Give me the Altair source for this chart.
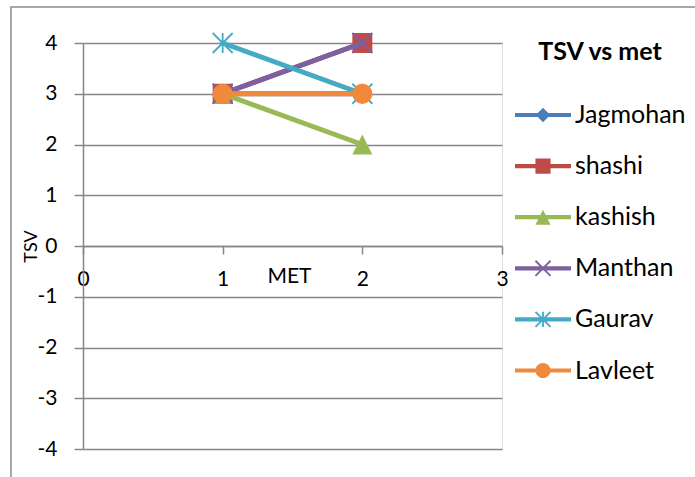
import altair as alt
import pandas as pd

# ---- data -------------------------------------------------------------
met = [1, 2]
series_names = ["Jagmohan", "shashi", "kashish", "Manthan", "Gaurav", "Lavleet"]
jagmohan = [3, 3]
shashi = [3, 4]
kashish = [3, 2]
manthan = [3, 4]
gaurav = [4, 3]
lavleet = [3, 3]
series_values = [jagmohan, shashi, kashish, manthan, gaurav, lavleet]

x_ticks = [0, 1, 2, 3]
y_ticks = [-4, -3, -2, -1, 0, 1, 2, 3, 4]

series_colors = ["#4A7EBB", "#BE4B48", "#98B954", "#7D60A0", "#46AAC5", "#F0893C"]
marker_kinds = ["diamond", "square", "triangle", "cross", "star", "circle"]

rows = []
for name, vals in zip(series_names, series_values):
    for m, v in zip(met, vals):
        rows.append({"series": name, "met": m, "tsv": v})
df = pd.DataFrame(rows)


# ---- marker geometry (SVG paths in symbol units, all wound clockwise) ---
def poly(points):
    return "M" + "L".join(f"{x:.4f},{y:.4f}" for x, y in points) + "Z"


def bar(p0, p1, t):
    (x0, y0), (x1, y1) = p0, p1
    length = ((x1 - x0) ** 2 + (y1 - y0) ** 2) ** 0.5
    ux, uy = (x1 - x0) / length, (y1 - y0) / length
    nx, ny = -uy, ux
    return poly([
        (x0 - nx * t, y0 - ny * t),
        (x1 - nx * t, y1 - ny * t),
        (x1 + nx * t, y1 + ny * t),
        (x0 + nx * t, y0 + ny * t),
    ])


def marker(kind, a, t):
    if kind == "diamond":
        return poly([(0, -a), (a, 0), (0, a), (-a, 0)])
    if kind == "square":
        return poly([(-a, -a), (a, -a), (a, a), (-a, a)])
    if kind == "triangle":
        return poly([(0, -a), (a, a), (-a, a)])
    if kind == "circle":
        return f"M{a:.4f},0A{a:.4f},{a:.4f} 0 1,1 {-a:.4f},0A{a:.4f},{a:.4f} 0 1,1 {a:.4f},0Z"
    cross = bar((-a, -a), (a, a), t) + bar((-a, a), (a, -a), t)
    if kind == "cross":
        return cross
    return cross + bar((0, -a), (0, a), t)


plot_size = {"diamond": 0.95, "square": 1.0, "triangle": 1.0,
             "cross": 1.0, "star": 1.0, "circle": 1.0}
plot_paths = [marker(k, plot_size[k], 0.09) for k in marker_kinds]

legend_line = bar((-1, 0), (1, 0), 0.075)
legend_paths = [legend_line + marker(k, 0.27 * plot_size[k], 0.033) for k in marker_kinds]

# ---- axes -------------------------------------------------------------
GRID = "#878787"
FONT = "Lato"
HYPHEN_LABEL = "datum.value < 0 ? '-' + abs(datum.value) : '' + datum.value"

x_axis = alt.Axis(
    values=x_ticks, grid=False, offset=-203, tickSize=8, tickColor=GRID, tickWidth=1.5,
    domainColor=GRID, domainWidth=1.5, labelFlush=False, labelPadding=14,
    labelFont=FONT, labelFontSize=21, labelColor="#000000", labelExpr=HYPHEN_LABEL,
    title="MET", titleFont=FONT, titleFontSize=21, titleFontWeight="normal",
    titleColor="#000000", titleX=206, titleY=30, titleBaseline="middle", titleAlign="center",
)
y_axis = alt.Axis(
    values=y_ticks, grid=True, gridColor=GRID, gridWidth=1.5, tickSize=9, tickColor=GRID,
    tickWidth=1.5, domainColor=GRID, domainWidth=1.5, labelPadding=17,
    labelFont=FONT, labelFontSize=21, labelColor="#000000", labelExpr=HYPHEN_LABEL,
    title="TSV", titleFont=FONT, titleFontSize=18, titleFontWeight="normal",
    titleColor="#000000", titleX=-52, titleY=203, titleAngle=270,
    titleBaseline="middle", titleAlign="center",
)

x_enc = alt.X("met:Q", scale=alt.Scale(domain=[0, 3], nice=False, zero=False), axis=x_axis)
y_enc = alt.Y("tsv:Q", scale=alt.Scale(domain=[-4, 4], nice=False), axis=y_axis)

legend = alt.Legend(
    title="TSV vs met", orient="none", legendX=432, legendY=-3, direction="vertical",
    padding=0, titleFont=FONT, titleFontSize=25, titleFontWeight="bold",
    titleColor="#000000", titleAnchor="middle", titlePadding=22,
    labelFont=FONT, labelFontSize=25, labelColor="#000000", labelOffset=4,
    symbolSize=3136, symbolStrokeWidth=0, symbolOpacity=1, rowPadding=10.1,
)

# ---- layers -----------------------------------------------------------
frame = alt.Chart(pd.DataFrame({"frame": [0]})).mark_rect(
    fill="#ffffff", fillOpacity=0, stroke="#8c8c8c", strokeWidth=1.5
).encode(x=alt.value(-72), x2=alt.value(640), y=alt.value(-36), y2=alt.value(470))

layers = [frame]
for name, color, path in zip(series_names, series_colors, plot_paths):
    sel = alt.Chart(df).transform_filter(alt.datum.series == name)
    layers.append(
        sel.mark_line(color=color, strokeWidth=4.8, strokeCap="round")
        .encode(x=x_enc, y=y_enc, order="met:Q")
    )
    layers.append(
        sel.mark_point(shape=path, size=400, filled=True, color=color,
                       opacity=1, strokeWidth=0)
        .encode(x=x_enc, y=y_enc)
    )

# Legend entries come from the explicit scale domains.
legend_layer = alt.Chart(df).transform_filter("false").mark_point(
    filled=True, opacity=1, strokeWidth=0
).encode(
    x=x_enc,
    y=y_enc,
    color=alt.Color("series:N", scale=alt.Scale(domain=series_names, range=series_colors),
                    legend=legend),
    shape=alt.Shape("series:N", scale=alt.Scale(domain=series_names, range=legend_paths),
                    legend=legend),
)
layers.append(legend_layer)

chart = alt.layer(*layers).properties(
    width=419,
    height=406,
    padding={"left": 83, "top": 43, "right": 193, "bottom": 28},
    autosize=alt.AutoSizeParams(type="none"),
    background="#ffffff",
).configure_view(stroke=None).configure(font=FONT)

chart.save("out.html", embed_options={"renderer": "svg", "actions": False})
